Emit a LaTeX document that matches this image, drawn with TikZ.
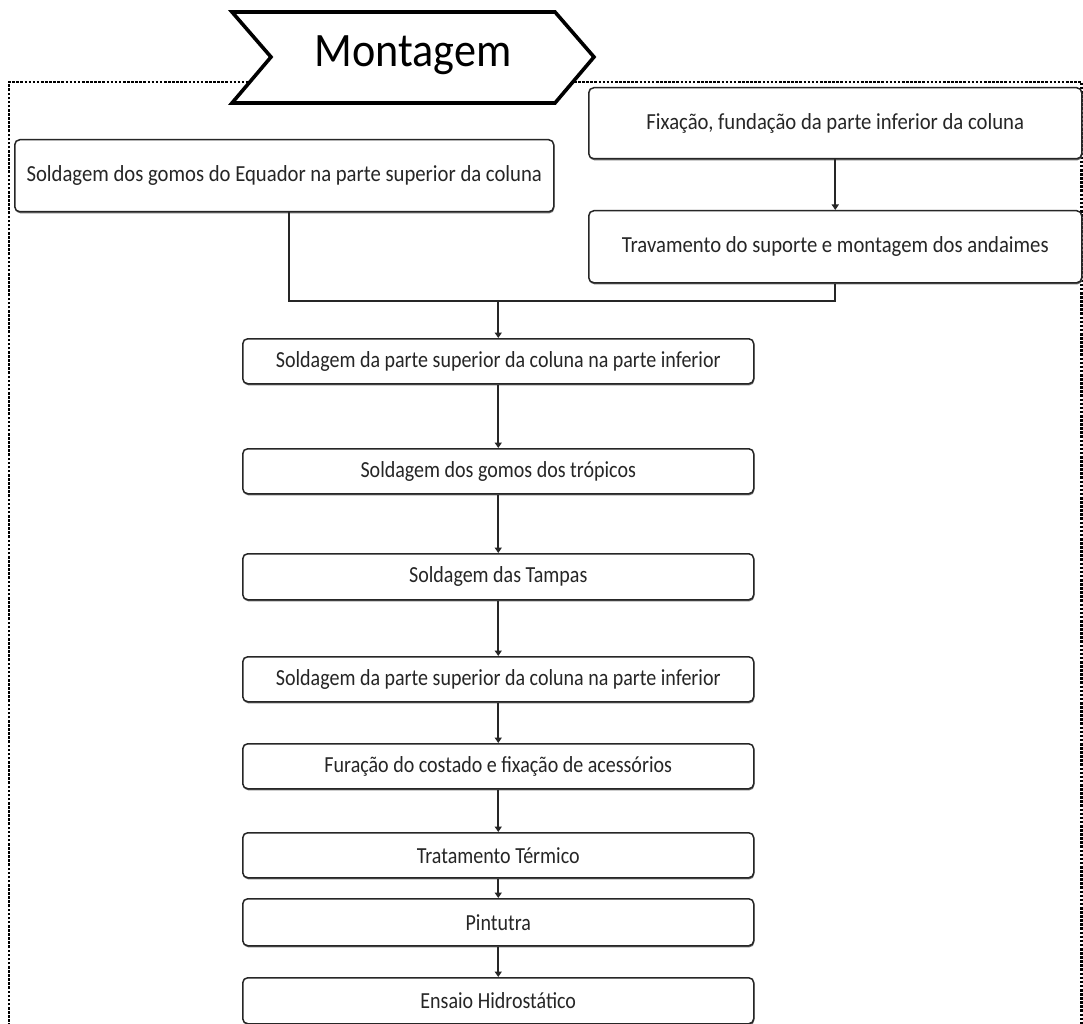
\documentclass[tikz,border=0pt]{standalone}
\usepackage{fontspec}
\usepackage{graphicx}
\setmainfont{Carlito}
\usetikzlibrary{arrows.meta,shadows}
\definecolor{ink}{HTML}{262626}
\newcommand{\sqz}[1]{\scalebox{0.87}[1]{#1}}
\newcommand{\sqw}[1]{\scalebox{0.90}[1]{#1}}
\begin{document}
\begin{tikzpicture}[x=1pt,y=-1pt,
  stepbox/.style={draw=ink, line width=1.5pt, rounded corners=5pt, fill=white,
    inner sep=0pt, anchor=north west, text=black!85,
    font=\fontsize{23}{26}\selectfont,
    drop shadow={shadow xshift=0.6pt, shadow yshift=-1.6pt, fill=black!55, opacity=1}},
  arr/.style={draw=ink, line width=2pt, -{Triangle[width=7pt,length=5.5pt]}},
  conn/.style={draw=ink, line width=2pt}]
\useasboundingbox (0,0) rectangle (1083,1024);
\fill[white] (0,0) rectangle (1083,1024);
% dotted frame
\draw[line width=2.8pt, dash pattern=on 2.6pt off 1.5pt] (9,1030) -- (9,82) -- (1081.5,82) -- (1081.5,1030);
% chevron title
\draw[line width=3.6pt, fill=white, line join=miter]
  (232,12) -- (555,12) -- (594,57) -- (555,103) -- (232,103) -- (271,57) -- cycle;
\node[font=\fontsize{48}{54}\selectfont, text=black] (title) at (413,55) {\scalebox{0.92}[1]{Montagem}};
% boxes
\node[stepbox, minimum width=539pt, minimum height=72pt] (eq) at (14,139)
  {\sqw{Soldagem dos gomos do Equador na parte superior da coluna}};
\node[stepbox, minimum width=493pt, minimum height=71pt] (fix) at (588,87)
  {\sqw{Fixação, fundação da parte inferior da coluna}};
\node[stepbox, minimum width=493pt, minimum height=72pt] (trav) at (588,210)
  {\sqw{Travamento do suporte e montagem dos andaimes}};
\node[stepbox, minimum width=511pt, minimum height=45pt] (b1) at (242,338)
  {\sqz{Soldagem da parte superior da coluna na parte inferior}};
\node[stepbox, minimum width=511pt, minimum height=45pt] (b2) at (242,448)
  {\sqz{Soldagem dos gomos dos trópicos}};
\node[stepbox, minimum width=511pt, minimum height=46pt] (b3) at (242,553)
  {\sqz{Soldagem das Tampas}};
\node[stepbox, minimum width=511pt, minimum height=45pt] (b4) at (242,656)
  {\sqz{Soldagem da parte superior da coluna na parte inferior}};
\node[stepbox, minimum width=511pt, minimum height=45pt] (b5) at (242,743)
  {\sqz{Furação do costado e fixação de acessórios}};
\node[stepbox, minimum width=511pt, minimum height=45pt] (b6) at (242,832)
  {\sqz{Tratamento Térmico}};
\node[stepbox, minimum width=511pt, minimum height=47pt] (b7) at (242,898)
  {\sqz{Pintutra}};
\node[stepbox, minimum width=511pt, minimum height=46pt] (b8) at (242,977)
  {\sqz{Ensaio Hidrostático}};
% connectors
\coordinate (j) at (b1.north |- 0,301);
\coordinate (eqb) at ([xshift=4.5pt]eq.south);
\draw[conn] (eqb) |- (j);
\draw[conn] (trav.south) |- (j);
\draw[arr] (j) -- (b1.north);
\draw[arr] (fix.south) -- (trav.north);
\draw[arr] (b1.south) -- (b2.north);
\draw[arr] (b2.south) -- (b3.north);
\draw[arr] (b3.south) -- (b4.north);
\draw[arr] (b4.south) -- (b5.north);
\draw[arr] (b5.south) -- (b6.north);
\draw[arr] (b6.south) -- (b7.north);
\draw[arr] (b7.south) -- (b8.north);
\end{tikzpicture}
\end{document}
